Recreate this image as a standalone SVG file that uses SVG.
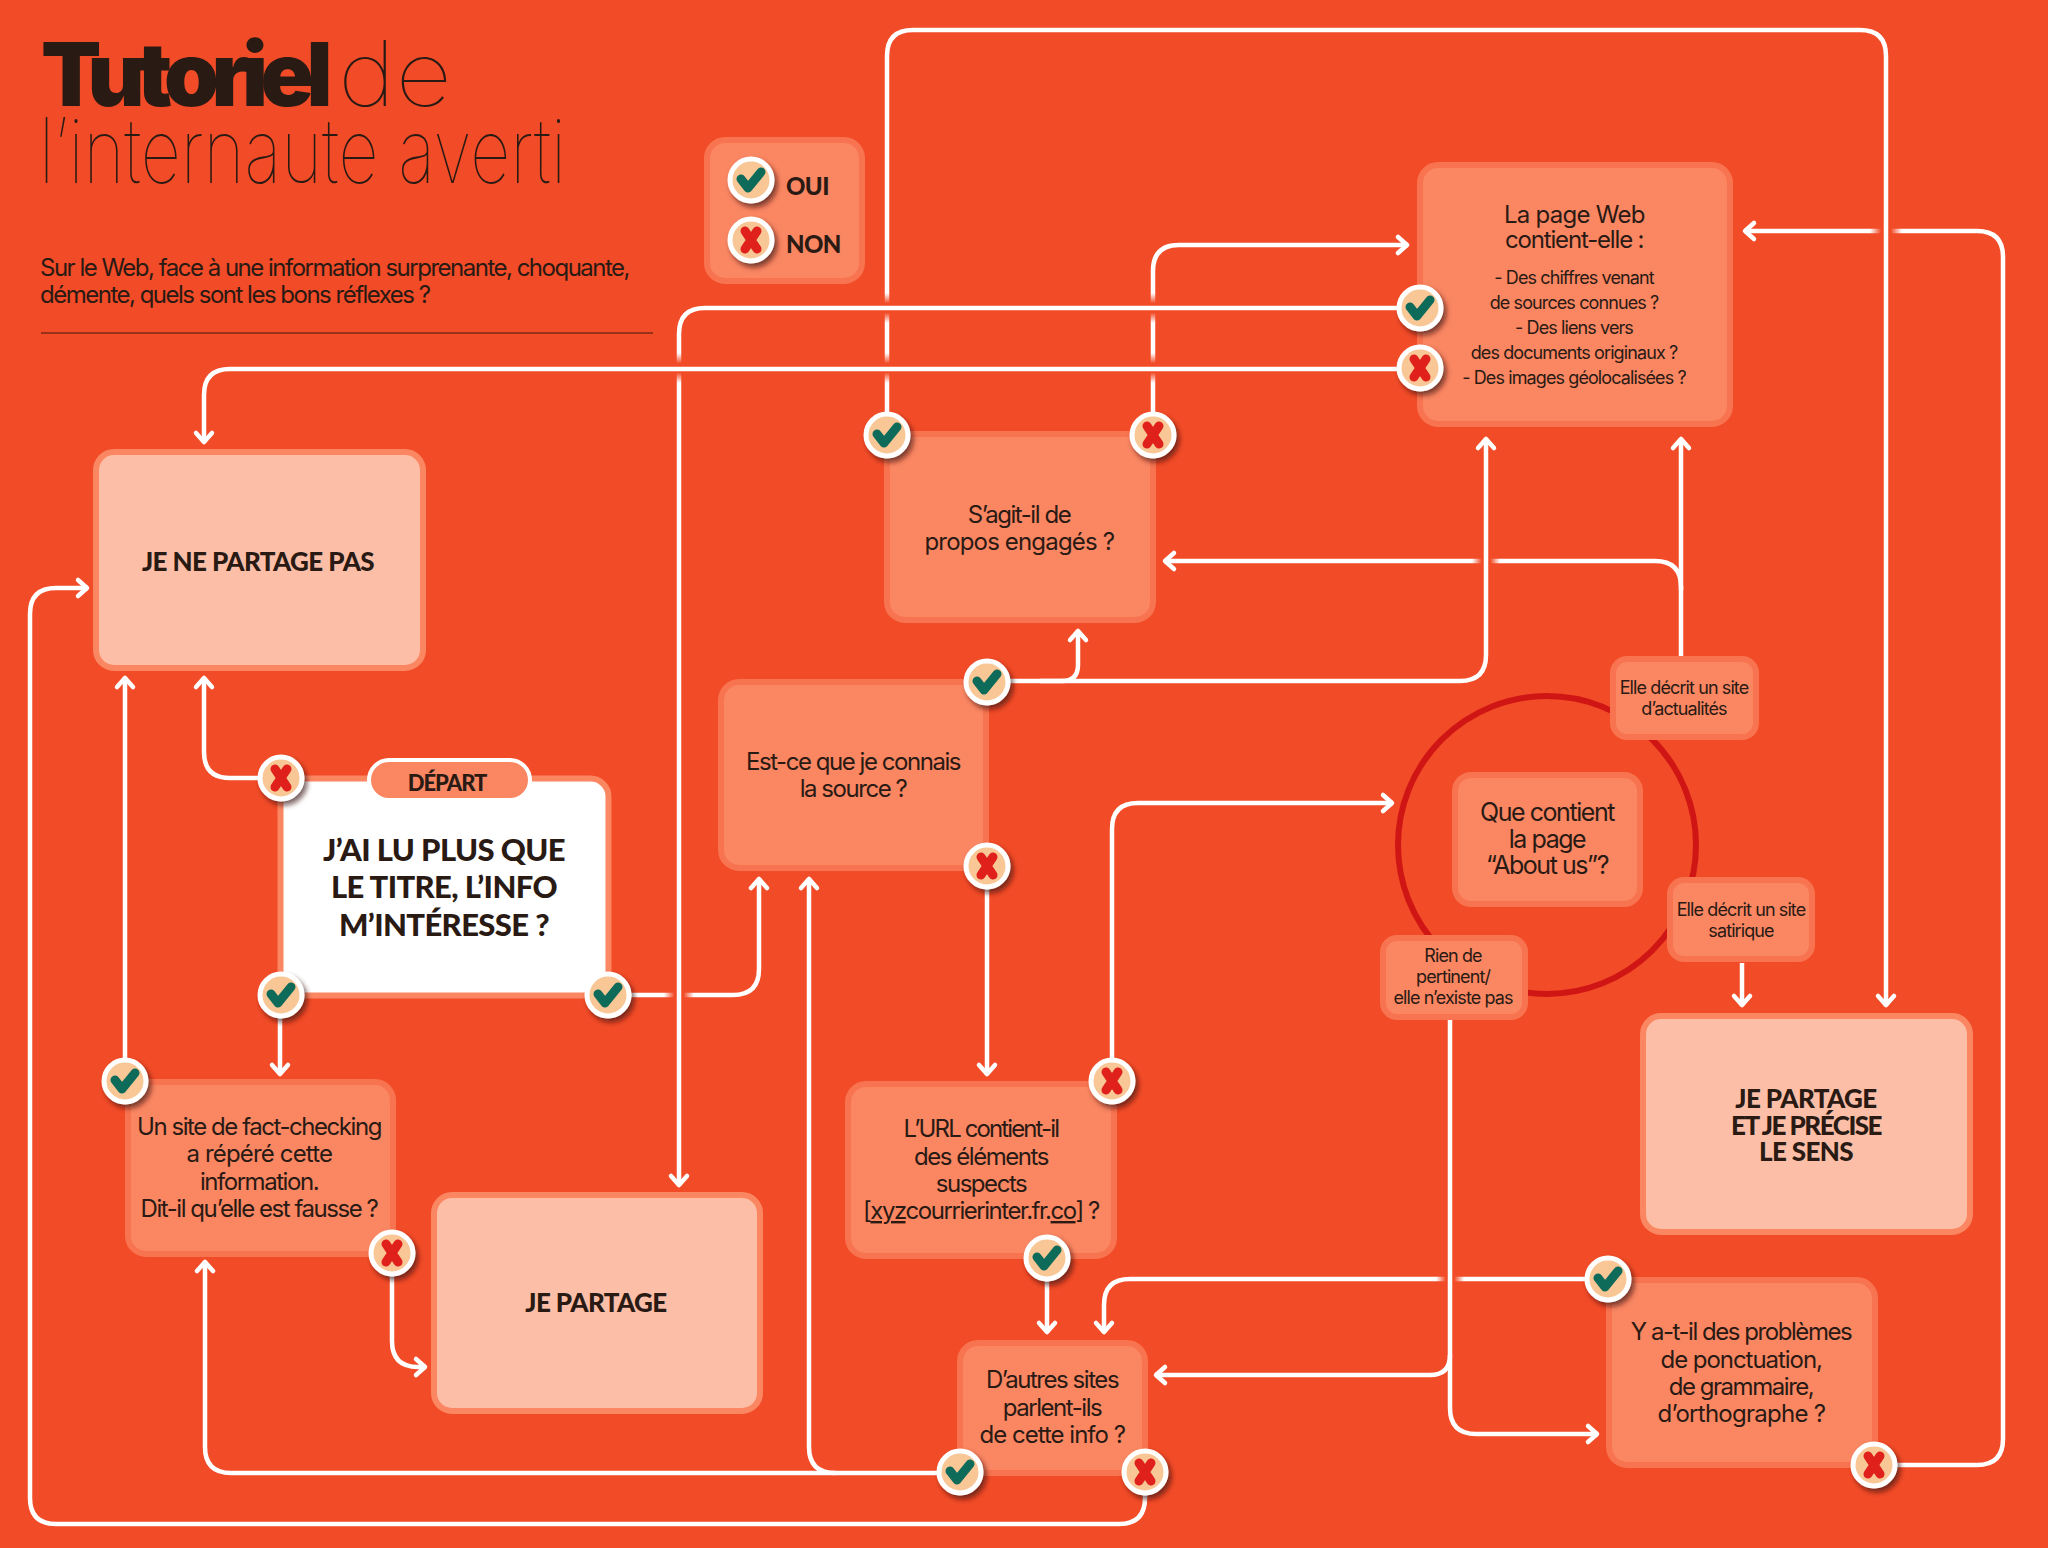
<svg xmlns="http://www.w3.org/2000/svg" width="2048" height="1548" viewBox="0 0 2048 1548">
<style>
text{font-family:"Inter","Liberation Sans",sans-serif;fill:#2a1a14;text-anchor:middle}
.n{fill:#fa8662;stroke:#f8734f;stroke-width:6}
.l{fill:#fdbea7;stroke:#fa8662;stroke-width:6}
.t{font-size:24px;letter-spacing:-1.45px}
.s{font-size:18px;letter-spacing:-.9px}
.b{font-family:"Lato","Liberation Sans",sans-serif;font-weight:900;font-size:26px;letter-spacing:-.6px}
.c{fill:none;stroke:#fff;stroke-width:4.500;marker-end:url(#a)}
.ring{fill:#f8c795;stroke:#fff;stroke-width:5;filter:url(#sh)}
.ck{fill:none;stroke:#0e6b5a;stroke-width:9;stroke-linecap:round;stroke-linejoin:round}
.xx{fill:none;stroke:#e0201a;stroke-width:9;stroke-linecap:round}
.gv{fill:url(#fv)}
.gh{fill:url(#fh)}
</style>
<defs>
<marker id="a" viewBox="-12 -11 16 22" refX="1" refY="0" markerUnits="userSpaceOnUse" markerWidth="16" markerHeight="22" orient="auto" overflow="visible"><path d="M-9 -8L0 0L-9 8" fill="none" stroke="#fff" stroke-width="4.500" stroke-linecap="round" stroke-linejoin="round"/></marker>
<filter id="sh" x="-30%" y="-30%" width="170%" height="170%"><feDropShadow dx="3" dy="4" stdDeviation="2.5" flood-color="#3a1208" flood-opacity=".65"/></filter>
<linearGradient id="fv" x1="0" y1="0" x2="0" y2="1"><stop offset="0" stop-color="#f24b27" stop-opacity="0"/><stop offset=".35" stop-color="#f24b27"/><stop offset=".65" stop-color="#f24b27"/><stop offset="1" stop-color="#f24b27" stop-opacity="0"/></linearGradient>
<linearGradient id="fh" x1="0" y1="0" x2="1" y2="0"><stop offset="0" stop-color="#f24b27" stop-opacity="0"/><stop offset=".35" stop-color="#f24b27"/><stop offset=".65" stop-color="#f24b27"/><stop offset="1" stop-color="#f24b27" stop-opacity="0"/></linearGradient>
<g id="yes"><circle r="21" class="ring"/><path d="M-10 -1L-3 8L10 -8" class="ck"/></g>
<g id="no"><circle r="21" class="ring"/><path d="M-6 -9L6 9M6 -9L-6 9" class="xx"/></g>
</defs>
<rect width="2048" height="1548" fill="#f24b27"/>
<g id="header">
<text x="41" y="106" textLength="286" style="text-anchor:start;font-weight:900;font-size:88px;letter-spacing:-5.5px">Tutoriel</text>
<text x="338" y="106" textLength="114" lengthAdjust="spacingAndGlyphs" style="text-anchor:start;font-weight:100;font-size:90px">de</text>
<text x="39" y="183" textLength="527" lengthAdjust="spacingAndGlyphs" style="text-anchor:start;font-weight:100;font-size:90px">l’internaute averti</text>
<text x="40" y="276" style="text-anchor:start;font-size:24px;letter-spacing:-1.5px">Sur le Web, face à une information surprenante, choquante,</text>
<text x="40" y="303" style="text-anchor:start;font-size:24px;letter-spacing:-1.5px">démente, quels sont les bons réflexes ?</text>
<path d="M41 333H653" stroke="#7a2a15" stroke-width="1.500"/>
</g>
<circle id="about-ring" cx="1547" cy="845" r="149" fill="none" stroke="#d01515" stroke-width="6"/>
<g id="connectors">
<path class="c" d="M1874 1465H1977Q2003 1465 2003 1439V257Q2003 231 1977 231H1744"/>
<rect class="gh" x="1870" y="226" width="32" height="10"/>
<path class="c" d="M887 435V56Q887 30 913 30H1860Q1886 30 1886 56V1006"/>
<path class="c" d="M1153 435V271Q1153 245 1179 245H1408"/>
<rect class="gv" x="882" y="293" width="10" height="30"/><rect class="gv" x="882" y="353" width="10" height="30"/>
<rect class="gv" x="1148" y="293" width="10" height="30"/><rect class="gv" x="1148" y="353" width="10" height="30"/>
<path class="c" d="M607 995H733Q759 995 759 969V878"/>
<rect class="gh" x="664" y="990" width="30" height="10"/>
<path class="c" d="M1420 308H705Q679 308 679 334V1186"/>
<rect class="gv" x="674" y="353" width="10" height="30"/>
<path class="c" d="M1420 369H230Q204 369 204 395V443"/>
<path class="c" d="M1681 656V438"/>
<path class="c" d="M1681 590V587Q1681 561 1655 561H1164"/>
<rect class="gh" x="1472" y="556" width="28" height="10"/>
<path class="c" d="M987 681H1460Q1486 681 1486 655V438"/>
<path class="c" d="M1040 681H1062Q1078 681 1078 665V630"/>
<path class="c" d="M987 866V1075"/>
<path class="c" d="M1112 1081V829Q1112 803 1138 803H1393"/>
<path class="c" d="M280 778H230Q204 778 204 752V677"/>
<path class="c" d="M280 995V1075"/>
<path class="c" d="M125 1081V677"/>
<path class="c" d="M392 1253V1341Q392 1367 418 1367H426"/>
<path class="c" d="M1047 1258V1333"/>
<path class="c" d="M960 1473H231Q205 1473 205 1447V1261"/>
<path class="c" d="M835 1473Q809 1473 809 1447V878"/>
<path class="c" d="M1145 1472V1498Q1145 1524 1119 1524H56Q30 1524 30 1498V614Q30 588 56 588H88"/>
<path class="c" d="M1608 1279H1130Q1104 1279 1104 1305V1333"/>
<rect class="gh" x="1436" y="1274" width="28" height="10"/>
<path class="c" d="M1450 1020V1408Q1450 1434 1476 1434H1598"/>
<path class="c" d="M1450 1355Q1450 1375 1430 1375H1155"/>
<path class="c" d="M1742 963V1006"/>
</g>
<g id="legend"><rect class="n" x="707" y="140" width="155" height="141" rx="18"/>
<text class="b" x="786" y="195" style="text-anchor:start;font-size:24px">OUI</text><text class="b" x="786" y="253" style="text-anchor:start;font-size:24px">NON</text>
<use href="#yes" x="751" y="180"/><use href="#no" x="751" y="240"/></g>
<g id="page-web"><rect class="n" x="1420" y="165" width="310" height="259" rx="18"/>
<text class="t" x="1574" y="223" textLength="140">La page Web</text><text class="t" x="1574" y="248" textLength="138">contient-elle :</text>
<text class="s" x="1574" y="284">- Des chiffres venant</text><text class="s" x="1574" y="309">de sources connues ?</text><text class="s" x="1574" y="334">- Des liens vers</text><text class="s" x="1574" y="359">des documents originaux ?</text><text class="s" x="1574" y="384">- Des images géolocalisées ?</text>
<use href="#yes" x="1420" y="308"/><use href="#no" x="1420" y="368"/></g>
<g id="engages"><rect class="n" x="887" y="434" width="266" height="186" rx="18"/>
<text class="t" x="1019" y="523">S’agit-il de</text><text class="t" x="1019" y="550" textLength="189">propos engagés ?</text>
<use href="#yes" x="887" y="435"/><use href="#no" x="1153" y="435"/></g>
<g id="ne-partage-pas"><rect class="l" x="96" y="452" width="327" height="216" rx="18"/>
<text class="b" x="258" y="571">JE NE PARTAGE PAS</text></g>
<g id="depart"><rect x="280.500" y="778.500" width="328" height="217" rx="18" fill="#fff" stroke="#fa8662" stroke-width="6"/>
<rect x="369" y="760" width="161" height="40" rx="20" fill="#fa8662" stroke="#fff" stroke-width="4"/>
<text class="b" x="447" y="791" style="font-size:22px;letter-spacing:-1px">DÉPART</text>
<text class="b" x="444" y="861" style="font-size:31px">J’AI LU PLUS QUE</text><text class="b" x="444" y="898" style="font-size:31px">LE TITRE, L’INFO</text><text class="b" x="444" y="936" style="font-size:31px">M’INTÉRESSE ?</text>
<use href="#no" x="281" y="778"/><use href="#yes" x="281" y="995"/><use href="#yes" x="608" y="995"/></g>
<g id="source"><rect class="n" x="721" y="682" width="265" height="186" rx="18"/>
<text class="t" x="853" y="770">Est-ce que je connais</text><text class="t" x="853" y="797">la source ?</text>
<use href="#yes" x="987" y="682"/><use href="#no" x="987" y="866"/></g>
<g id="fact-check"><rect class="n" x="128" y="1082" width="265" height="172" rx="18"/>
<text class="t" x="259" y="1135">Un site de fact-checking</text><text class="t" x="259" y="1162" textLength="145">a répéré cette</text><text class="t" x="259" y="1190">information.</text><text class="t" x="259" y="1217">Dit-il qu’elle est fausse ?</text>
<use href="#yes" x="125" y="1081"/><use href="#no" x="392" y="1253"/></g>
<g id="je-partage"><rect class="l" x="434" y="1195" width="326" height="216" rx="18"/>
<text class="b" x="596" y="1312">JE PARTAGE</text></g>
<g id="url"><rect class="n" x="848" y="1084" width="266" height="172" rx="18"/>
<text class="t" x="981" y="1137" textLength="155">L’URL contient-il</text><text class="t" x="981" y="1165">des éléments</text><text class="t" x="981" y="1192">suspects</text><text class="t" x="981" y="1219">[<tspan text-decoration="underline">xyz</tspan>courrierinter.fr.<tspan text-decoration="underline">co</tspan>] ?</text>
<use href="#no" x="1112" y="1081"/><use href="#yes" x="1047" y="1258"/></g>
<g id="autres-sites"><rect class="n" x="960" y="1343" width="185" height="130" rx="18"/>
<text class="t" x="1052" y="1388">D’autres sites</text><text class="t" x="1052" y="1416">parlent-ils</text><text class="t" x="1052" y="1443" textLength="145">de cette info ?</text>
<use href="#yes" x="960" y="1472"/><use href="#no" x="1145" y="1472"/></g>
<g id="orthographe"><rect class="n" x="1609" y="1280" width="266" height="185" rx="18"/>
<text class="t" x="1741" y="1340">Y a-t-il des problèmes</text><text class="t" x="1741" y="1368" textLength="161">de ponctuation,</text><text class="t" x="1741" y="1395">de grammaire,</text><text class="t" x="1741" y="1422" textLength="167">d’orthographe ?</text>
<use href="#yes" x="1608" y="1279"/><use href="#no" x="1874" y="1465"/></g>
<g id="partage-sens"><rect class="l" x="1643" y="1016" width="327" height="216" rx="18"/>
<text class="b" x="1806" y="1108">JE PARTAGE</text><text class="b" x="1806" y="1135" style="letter-spacing:-1.5px">ET JE PRÉCISE</text><text class="b" x="1806" y="1161">LE SENS</text></g>
<g id="about"><rect class="n" x="1455" y="775" width="185" height="129" rx="16"/>
<text class="t" x="1547" y="821" style="font-size:25px">Que contient</text><text class="t" x="1547" y="848" style="font-size:25px">la page</text><text class="t" x="1547" y="874" style="font-size:25px">“About us”?</text></g>
<g id="actualites"><rect class="n" x="1613" y="659" width="143" height="78" rx="14"/>
<text class="s" x="1684" y="694">Elle décrit un site</text><text class="s" x="1684" y="715">d’actualités</text></g>
<g id="satirique"><rect class="n" x="1670" y="880" width="142" height="79" rx="14"/>
<text class="s" x="1741" y="916">Elle décrit un site</text><text class="s" x="1741" y="937">satirique</text></g>
<g id="rien"><rect class="n" x="1383" y="938" width="142" height="79" rx="14"/>
<text class="s" x="1453" y="962">Rien de</text><text class="s" x="1453" y="983">pertinent/</text><text class="s" x="1453" y="1004">elle n’existe pas</text></g>
</svg>
